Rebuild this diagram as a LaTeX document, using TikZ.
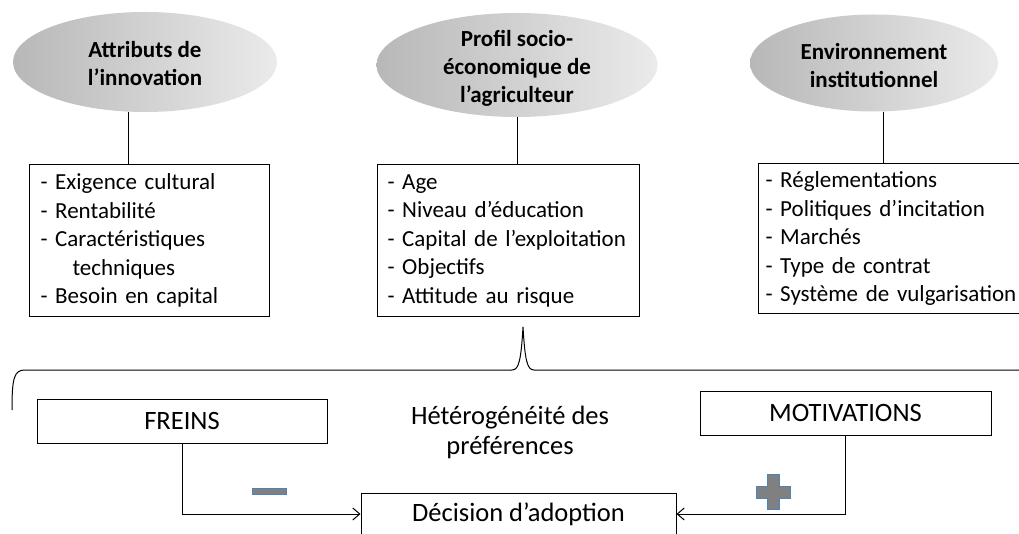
\documentclass[tikz,border=0pt]{standalone}
\usepackage{fontspec}
\setmainfont{Carlito}
\usetikzlibrary{shapes.geometric,arrows.meta,calc}
\begin{document}
\begin{tikzpicture}[x=1pt,y=-1pt,
  ell/.style={ellipse,draw=none,inner sep=0pt,left color=black!28,right color=black!8},
  etxt/.style={align=center,font=\fontsize{23}{28}\selectfont\bfseries,inner sep=0pt},
  lbox/.style={draw,line width=1pt,rectangle,anchor=north west,align=left,inner ysep=0pt,
     font=\fontsize{23}{28.5}\selectfont},
  cbox/.style={draw,line width=1pt,rectangle,font=\fontsize{26.5}{30}\selectfont,inner sep=0pt},
  link/.style={line width=1pt},
  arr/.style={line width=1pt,-{Straight Barb[length=7pt,width=12pt]}},
  sign/.style={fill=black!50,draw={rgb,255:red,79;green,129;blue,189},line width=0.8pt}
]
\useasboundingbox (0,0) rectangle (1019,534);
\clip (0,0) rectangle (1019,534);
\fill[white] (0,0) rectangle (1019,534);

% ellipses
\node[ell,minimum width=264pt,minimum height=100pt] (e1) at (145,62) {};
\node[etxt] (t1) at (145,64) {Attributs de\\l’innovation};
\node[ell,minimum width=281pt,minimum height=104pt] (e2) at (517,65) {};
\node[etxt] (t2) at (517,68) {Profil socio-\\économique de\\l’agriculteur};
\node[ell,minimum width=248pt,minimum height=97pt] (e3) at (874,63) {};
\node[etxt] (t3) at (874,66) {Environnement\\institutionnel};

% boxes
\node[lbox,minimum height=152pt,text width=218pt,inner xsep=11pt] (b1) at (29,164)
 {- Exigence cultural\\- Rentabilité\\- Caractéristiques\\\hspace*{32pt}techniques\\- Besoin en capital};
\node[lbox,minimum height=152pt,text width=242pt,inner xsep=10pt] (b2) at (377,164)
 {- Age\\- Niveau d’éducation\\- Capital de l’exploitation\\- Objectifs\\- Attitude au risque};
\node[lbox,minimum height=150pt,text width=266pt,inner xsep=7pt] (b3) at (758,163)
 {- Réglementations\\- Politiques d’incitation\\- Marchés\\- Type de contrat\\- Système de vulgarisation};

% links ellipse -> box
\coordinate (x1) at (128,0);
\coordinate (x3) at (883,0);
\draw[link] (e1.south -| x1) -- (b1.north -| x1);
\draw[link] (e2.south) -- (b2.north -| e2.south);
\draw[link] (e3.south -| x3) -- (b3.north -| x3);

% brace
\draw[line width=1pt] (12,410) .. controls (12,378) and (14,370) .. (25,370) -- (512,370)
  .. controls (519,370) and (521,360) .. (523,327)
  .. controls (525,360) and (527,370) .. (534,370) -- (1030,370);

% lower boxes
\node[cbox,minimum width=290pt,minimum height=44pt] (fr) at (182,421) {FREINS};
\node[cbox,minimum width=291pt,minimum height=44pt] (mo) at (845.5,413) {MOTIVATIONS};
\node[align=center,font=\fontsize{26.5}{30}\selectfont,inner sep=0pt] (het) at (510,432)
 {Hétérogénéité des\\préférences};
\node[cbox,minimum width=315pt,minimum height=42pt] (dec) at (518.5,514) {Décision d’adoption};

% arrows
\draw[arr] (fr.south) |- (dec.west);
\draw[arr] (mo.south) |- (dec.east);

% signs
\node[sign,rectangle,minimum width=34pt,minimum height=6pt,inner sep=0pt] (minus) at (269,491) {};
\path[sign] (767,474) -- (779,474) -- (779,486) -- (790,486) -- (790,498) -- (779,498)
  -- (779,509) -- (767,509) -- (767,498) -- (756,498) -- (756,486) -- (767,486) -- cycle;
\end{tikzpicture}
\end{document}
